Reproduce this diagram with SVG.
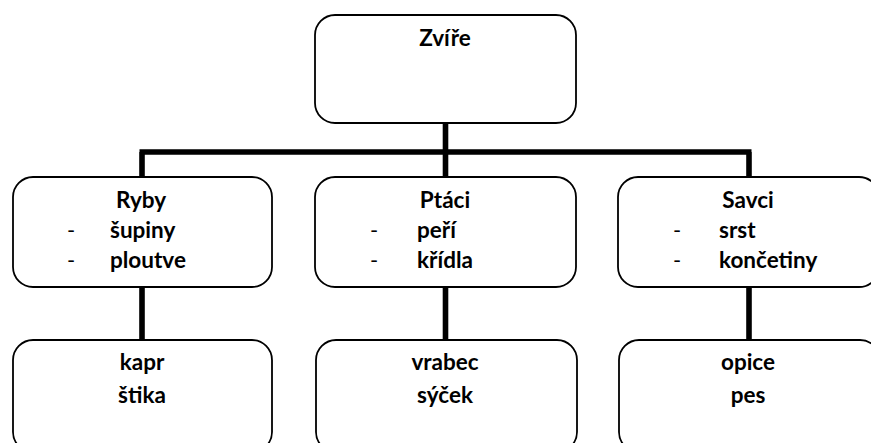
<svg xmlns="http://www.w3.org/2000/svg" width="871" height="443" viewBox="0 0 871 443">
<style>
.box{fill:#fff;stroke:#000;stroke-width:1.8}
.t{font-family:Lato,"Liberation Sans",sans-serif;font-weight:bold;font-size:22.5px;fill:#000}
.c{text-anchor:middle}
.d{font-family:Lato,"Liberation Sans",sans-serif;font-size:22px;fill:#000}
.ln{stroke:#000;stroke-width:5.6;fill:none}
</style>
<rect width="871" height="443" fill="#fff"/>
<g id="connectors">
<path class="ln" d="M445.5 123V152M139.5 152H751.5M142 152V177M445.5 152V177M749 152V177"/>
<path class="ln" d="M142 287V340M445.5 287V340M749 287V340"/>
</g>
<g id="zvire">
<rect class="box" x="315" y="15" width="261" height="108" rx="20"/>
<text class="t c" x="445" y="46">Zvíře</text>
</g>
<g id="ryby">
<rect class="box" x="13" y="177" width="259" height="110" rx="20"/>
<text class="t c" x="141" y="208">Ryby</text>
<text class="d" x="67" y="238">-</text>
<text class="t" x="110" y="238">šupiny</text>
<text class="d" x="67" y="268">-</text>
<text class="t" x="110" y="268">ploutve</text>
</g>
<g id="ptaci">
<rect class="box" x="315" y="177" width="261" height="110" rx="20"/>
<text class="t c" x="445" y="208">Ptáci</text>
<text class="d" x="370" y="238">-</text>
<text class="t" x="417" y="238">peří</text>
<text class="d" x="370" y="268">-</text>
<text class="t" x="417" y="268">křídla</text>
</g>
<g id="savci">
<rect class="box" x="618" y="177" width="261" height="110" rx="20"/>
<text class="t c" x="748" y="208">Savci</text>
<text class="d" x="673" y="238">-</text>
<text class="t" x="719" y="238">srst</text>
<text class="d" x="673" y="268">-</text>
<text class="t" x="719" y="268">končetiny</text>
</g>
<g id="ryby-priklady">
<rect class="box" x="13" y="340" width="259" height="112" rx="20"/>
<text class="t c" x="142" y="370">kapr</text>
<text class="t c" x="142" y="403">štika</text>
</g>
<g id="ptaci-priklady">
<rect class="box" x="316" y="340" width="261" height="112" rx="20"/>
<text class="t c" x="445" y="370">vrabec</text>
<text class="t c" x="445" y="403">sýček</text>
</g>
<g id="savci-priklady">
<rect class="box" x="619" y="340" width="261" height="112" rx="20"/>
<text class="t c" x="748" y="370">opice</text>
<text class="t c" x="748" y="403">pes</text>
</g>
</svg>
